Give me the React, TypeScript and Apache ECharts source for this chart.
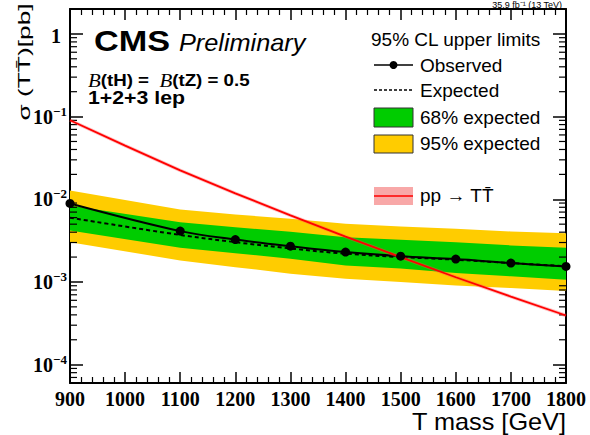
import React, { useEffect, useRef } from 'react';
import * as echarts from 'echarts';

// ---- data ----
const obsMass = [900, 1100, 1200, 1300, 1400, 1500, 1600, 1700, 1800];
const observed = [8.9e-3, 4.12e-3, 3.26e-3, 2.71e-3, 2.3e-3, 2.05e-3, 1.89e-3, 1.69e-3, 1.54e-3];
const expected = [5.98e-3, 3.7e-3, 3.03e-3, 2.54e-3, 2.2e-3, 2.0e-3, 1.86e-3, 1.69e-3, 1.55e-3];
const band68Hi = [8.4e-3, 5.29e-3, 4.6e-3, 4.05e-3, 3.48e-3, 3.24e-3, 3.03e-3, 2.77e-3, 2.59e-3];
const band68Lo = [4.2e-3, 2.59e-3, 2.23e-3, 1.91e-3, 1.58e-3, 1.45e-3, 1.28e-3, 1.17e-3, 1.06e-3];
const band95Hi = [1.28e-2, 7.53e-3, 6.55e-3, 5.81e-3, 5.06e-3, 4.69e-3, 4.4e-3, 4.08e-3, 3.89e-3];
const band95Lo = [3.03e-3, 1.82e-3, 1.51e-3, 1.26e-3, 1.09e-3, 9.96e-4, 9.08e-4, 8.43e-4, 7.75e-4];
const thMass = [900, 1000, 1100, 1200, 1300, 1400, 1500, 1600, 1700, 1800];
const theory = [0.0903, 0.0445, 0.0224, 0.0118, 0.00639, 0.00354, 0.002, 0.00114, 0.000665, 0.000393];

const xMin = 900;
const xMax = 1800;
const yMin = 6e-5;
const yMax = 2;

// minor tick positions of the log axis (2..9 x each decade)
const yMinorTicks: number[] = [];
for (let e = -5; e <= 0; e++) {
  for (let k = 2; k <= 9; k++) {
    const v = k * Math.pow(10, e);
    if (v > yMin && v < yMax) yMinorTicks.push(v);
  }
}

const GREEN = '#00cc00';
const YELLOW = '#ffcc00';
const RED = '#ff0000';
const SANS = 'Liberation Sans';
const SERIF = 'Liberation Serif';

function bandSeries(lo: number[], hi: number[], color: string) {
  return {
    type: 'custom',
    coordinateSystem: 'cartesian2d',
    silent: true,
    data: obsMass.map((m, i) => [m, lo[i], hi[i]]),
    encode: { x: 0, y: [1, 2] },
    renderItem: (params: any, api: any) => {
      if (params.dataIndex !== 0) return null;
      const top = obsMass.map((m, i) => api.coord([m, hi[i]]));
      const bot = obsMass.map((m, i) => api.coord([m, lo[i]])).reverse();
      return {
        type: 'polygon',
        shape: { points: top.concat(bot) },
        style: { fill: color, stroke: null },
      };
    },
  };
}

function yLabel(v: number) {
  const l = Math.log10(v);
  const e = Math.round(l);
  if (Math.abs(l - e) > 1e-6) return '';
  if (e === 0) return '{one|1}';
  return '{b|10}{s|\u2212' + -e + '}';
}

function buildOption(): any {
  const axisLineStyle = { color: '#000', width: 2 };
  const xAxisCommon = {
    type: 'value',
    min: xMin,
    max: xMax,
    interval: 100,
    splitLine: { show: false },
    axisLine: { show: true, lineStyle: axisLineStyle },
    axisTick: { show: true, inside: true, length: 11, lineStyle: { color: '#000', width: 1.5 } },
    minorTick: { show: true, splitNumber: 5, length: 6, lineStyle: { color: '#000', width: 1.2 } },
  };
  const yAxisCommon = {
    type: 'log',
    logBase: 10,
    min: yMin,
    max: yMax,
    splitLine: { show: false },
    axisLine: { show: true, lineStyle: axisLineStyle },
    axisTick: { show: true, inside: true, length: 13, lineStyle: { color: '#000', width: 1.5 } },
  };

  const legendX = 374;
  const legendW = 39;
  const legendTextX = 420;
  const legendFont = 19;

  return {
    animation: false,
    backgroundColor: '#fff',
    grid: { left: 70, right: 24, top: 9, bottom: 52, containLabel: false },
    xAxis: [
      {
        ...xAxisCommon,
        position: 'bottom',
        axisLabel: {
          show: true,
          margin: 6,
          color: '#000',
          fontFamily: SERIF,
          fontWeight: 'bold',
          fontSize: 20,
          formatter: (v: number) => String(Math.round(v)),
        },
      },
      {
        ...xAxisCommon,
        position: 'top',
        axisLabel: { show: false },
      },
    ],
    yAxis: [
      {
        ...yAxisCommon,
        position: 'left',
        axisLabel: {
          show: true,
          margin: 3,
          color: '#000',
          formatter: yLabel,
          rich: {
            b: { fontFamily: SERIF, fontWeight: 'bold', fontSize: 20, lineHeight: 24, color: '#000' },
            s: { fontFamily: SERIF, fontWeight: 'bold', fontSize: 13, lineHeight: 13, verticalAlign: 'top', color: '#000' },
            one: { fontFamily: SERIF, fontWeight: 'bold', fontSize: 20, lineHeight: 24, padding: [4, 6, 0, 0], color: '#000' },
          },
        },
      },
      {
        ...yAxisCommon,
        position: 'right',
        axisLabel: { show: false },
      },
    ],
    series: [
      bandSeries(band95Lo, band95Hi, YELLOW),
      bandSeries(band68Lo, band68Hi, GREEN),
      {
        type: 'custom',
        coordinateSystem: 'cartesian2d',
        silent: true,
        data: yMinorTicks.map((v) => [xMin, v]),
        renderItem: (params: any, api: any) => {
          const v = api.value(1);
          const pl = api.coord([xMin, v]);
          const pr = api.coord([xMax, v]);
          const st = { stroke: '#000', lineWidth: 1.2 };
          return {
            type: 'group',
            children: [
              { type: 'line', shape: { x1: pl[0], y1: pl[1], x2: pl[0] + 7, y2: pl[1] }, style: st },
              { type: 'line', shape: { x1: pr[0] - 7, y1: pr[1], x2: pr[0], y2: pr[1] }, style: st },
            ],
          };
        },
      },
      {
        name: 'Expected',
        type: 'line',
        data: obsMass.map((m, i) => [m, expected[i]]),
        smooth: 0.35,
        symbol: 'none',
        lineStyle: { color: '#000', width: 2, type: [4, 3] },
      },
      {
        name: 'Observed',
        type: 'line',
        data: obsMass.map((m, i) => [m, observed[i]]),
        smooth: 0.35,
        symbol: 'circle',
        symbolSize: 9,
        itemStyle: { color: '#000' },
        lineStyle: { color: '#000', width: 2 },
      },
      {
        name: 'theory band',
        type: 'line',
        data: thMass.map((m, i) => [m, theory[i]]),
        symbol: 'none',
        silent: true,
        lineStyle: { color: 'rgba(255,80,80,0.35)', width: 3.5 },
      },
      {
        name: 'pp → TT̄',
        type: 'line',
        data: thMass.map((m, i) => [m, theory[i]]),
        symbol: 'none',
        lineStyle: { color: RED, width: 1.8 },
      },
    ],
    graphic: [
      // top-right luminosity text
      {
        type: 'text',
        x: 562,
        y: 0,
        style: {
          text: '35.9 fb\u207B\u00B9 (13 TeV)',
          align: 'right',
          verticalAlign: 'top',
          fontFamily: SANS,
          fontSize: 9,
          fill: '#000',
        },
      },
      // CMS Preliminary
      {
        type: 'text',
        x: 94,
        y: 41,
        scaleX: 1.18,
        style: { text: 'CMS', fontFamily: SANS, fontWeight: 'bold', fontSize: 29, fill: '#000', verticalAlign: 'middle' },
      },
      {
        type: 'text',
        x: 179,
        y: 43,
        scaleX: 1.1,
        style: { text: 'Preliminary', fontFamily: SANS, fontStyle: 'italic', fontSize: 23, fill: '#000', verticalAlign: 'middle' },
      },
      {
        type: 'text',
        x: 88,
        y: 80,
        scaleX: 1.1,
        style: {
          text: '{i|B}{b|(tH) =  }{i|B}{b|(tZ) = 0.5}',
          verticalAlign: 'middle',
          rich: {
            i: { fontFamily: SERIF, fontStyle: 'italic', fontSize: 19, fill: '#000' },
            b: { fontFamily: SANS, fontWeight: 'bold', fontSize: 17, fill: '#000' },
          },
        },
      },
      {
        type: 'text',
        x: 88,
        y: 97,
        scaleX: 1.12,
        style: { text: '1+2+3 lep', fontFamily: SANS, fontWeight: 'bold', fontSize: 19, fill: '#000', verticalAlign: 'middle' },
      },
      // y axis title
      {
        type: 'text',
        x: 24,
        y: 62,
        rotation: Math.PI / 2,
        scaleX: 1.55,
        style: {
          text: '\u03C3 (TT\u0304)[pb]',
          align: 'center',
          verticalAlign: 'middle',
          fontFamily: SANS,
          fontSize: 17,
          fill: '#000',
        },
      },
      // x axis title
      {
        type: 'text',
        x: 566,
        y: 422,
        scaleX: 1.1,
        style: { text: 'T mass [GeV]', align: 'right', verticalAlign: 'middle', fontFamily: SANS, fontSize: 23, fill: '#000' },
      },
      // legend
      {
        type: 'text',
        x: 371,
        y: 39,
        style: { text: '95% CL upper limits', fontFamily: SANS, fontSize: legendFont, fill: '#000', verticalAlign: 'middle' },
      },
      {
        type: 'line',
        shape: { x1: legendX, y1: 65, x2: legendX + legendW, y2: 65 },
        style: { stroke: '#000', lineWidth: 1.6 },
      },
      { type: 'circle', shape: { cx: legendX + legendW / 2, cy: 65, r: 4 }, style: { fill: '#000' } },
      {
        type: 'text',
        x: legendTextX,
        y: 65,
        style: { text: 'Observed', fontFamily: SANS, fontSize: legendFont, fill: '#000', verticalAlign: 'middle' },
      },
      {
        type: 'line',
        shape: { x1: legendX, y1: 90, x2: legendX + legendW, y2: 90 },
        style: { stroke: '#000', lineWidth: 1.4, lineDash: [3, 2] },
      },
      {
        type: 'text',
        x: legendTextX,
        y: 90,
        style: { text: 'Expected', fontFamily: SANS, fontSize: legendFont, fill: '#000', verticalAlign: 'middle' },
      },
      {
        type: 'rect',
        shape: { x: legendX, y: 108, width: legendW, height: 19 },
        style: { fill: GREEN, stroke: '#333', lineWidth: 1 },
      },
      {
        type: 'text',
        x: legendTextX,
        y: 117,
        style: { text: '68% expected', fontFamily: SANS, fontSize: legendFont, fill: '#000', verticalAlign: 'middle' },
      },
      {
        type: 'rect',
        shape: { x: legendX, y: 135, width: legendW, height: 18 },
        style: { fill: YELLOW, stroke: '#333', lineWidth: 1 },
      },
      {
        type: 'text',
        x: legendTextX,
        y: 143,
        style: { text: '95% expected', fontFamily: SANS, fontSize: legendFont, fill: '#000', verticalAlign: 'middle' },
      },
      {
        type: 'rect',
        shape: { x: legendX, y: 187, width: legendW, height: 18 },
        style: { fill: '#f8a8a8', stroke: null },
      },
      {
        type: 'line',
        shape: { x1: legendX, y1: 196, x2: legendX + legendW, y2: 196 },
        style: { stroke: RED, lineWidth: 1.6 },
      },
      {
        type: 'text',
        x: legendTextX,
        y: 195,
        style: { text: 'pp \u2192 TT\u0304', fontFamily: SANS, fontSize: legendFont, fill: '#000', verticalAlign: 'middle' },
      },
    ],
  };
}

export default function App() {
  const ref = useRef<HTMLDivElement>(null);
  useEffect(() => {
    if (!ref.current) return;
    const chart = echarts.init(ref.current, null, { renderer: 'svg' });
    chart.setOption(buildOption());
    return () => {
      chart.dispose();
    };
  }, []);
  return (
    <div
      ref={ref}
      style={{ position: 'fixed', left: 0, top: 0, width: 590, height: 435, background: '#fff' }}
    />
  );
}
